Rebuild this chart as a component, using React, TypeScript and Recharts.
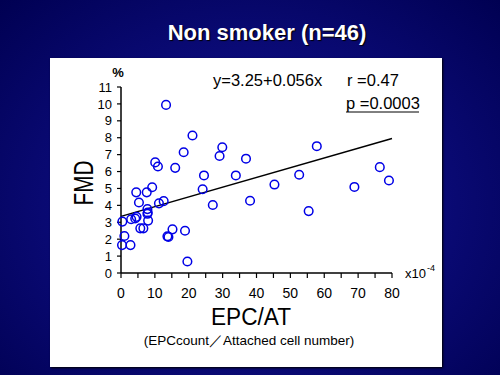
import React from 'react';
import { ScatterChart, Scatter, XAxis, YAxis, ReferenceLine } from 'recharts';

// EPC/AT (x10^-4) vs FMD (%)
const EPC_AT = [0.4, 1.0, 0.3, 2.8, 3.0, 4.6, 4.2, 4.5, 5.3, 5.7, 6.6, 7.6, 7.8, 7.9, 7.8, 8.0, 9.2, 10.1, 10.9, 11.2, 12.6, 13.3, 13.7, 14.0, 15.2, 16.0, 18.5, 18.9, 19.6, 21.1, 24.1, 24.5, 27.1, 29.1, 29.9, 33.9, 36.9, 38.1, 45.3, 52.6, 55.4, 57.8, 68.9, 76.4, 79.1];
const FMD = [3.04, 2.19, 1.65, 1.65, 3.18, 3.32, 3.22, 4.77, 4.17, 2.64, 2.64, 4.77, 3.78, 3.58, 3.5, 3.1, 5.07, 6.54, 6.3, 4.12, 4.25, 9.94, 2.17, 2.13, 2.58, 6.22, 7.14, 2.5, 0.68, 8.13, 4.95, 5.77, 4.02, 6.92, 7.44, 5.77, 6.76, 4.27, 5.23, 5.81, 3.66, 7.5, 5.09, 6.26, 5.47];

// regression line y=3.25+0.056x as drawn
const LINE_X = [0, 80];
const LINE_Y = [3.35, 7.95];

const X_TICKS = [0, 5, 10, 15, 20, 25, 30, 35, 40, 45, 50, 55, 60, 65, 70, 75, 80];
const Y_TICKS = [0, 1, 2, 3, 4, 5, 6, 7, 8, 9, 10, 11];

const points = EPC_AT.map((x, i) => ({ x, y: FMD[i] }));

const font = 'Arial, "Liberation Sans", sans-serif';

const Ring = (props: any) => (
  <circle cx={props.cx} cy={props.cy} r={4.3} fill="none" stroke="#0000e6" strokeWidth={1.5} />
);

export default function App() {
  return (
    <div
      style={{
        position: 'absolute',
        left: 0,
        top: 0,
        width: 500,
        height: 375,
        overflow: 'hidden',
        fontFamily: font,
        background: 'radial-gradient(ellipse at 50% 55%, #1c1c9c 0%, #0c0c7c 45%, #000052 100%)',
      }}
    >
      <div
        style={{
          position: 'absolute',
          left: 0,
          width: 534,
          top: 20,
          textAlign: 'center',
          color: '#fff',
          fontWeight: 'bold',
          fontSize: 22,
          textShadow: '1px 1px 1px #000',
        }}
      >
        Non smoker (n=46)
      </div>
      <div
        style={{
          position: 'absolute',
          left: 50,
          top: 58,
          width: 392,
          height: 309,
          background: '#fff',
          boxShadow: '1px 1px 2px #000',
        }}
      />
      <div style={{ position: 'absolute', left: 0, top: 0 }}>
        <ScatterChart width={500} height={375} margin={{ top: 87, right: 108, bottom: 72, left: 81 }}>
          <XAxis
            type="number"
            dataKey="x"
            domain={[0, 80]}
            ticks={X_TICKS}
            interval={0}
            tickFormatter={(v: number) => (v % 10 === 0 ? String(v) : '')}
            axisLine={{ stroke: '#000', strokeWidth: 1.5 }}
            tickLine={{ stroke: '#000', strokeWidth: 1.2 }}
            tickSize={5}
            tickMargin={10}
            tick={{ fill: '#000', fontSize: 14, fontFamily: font }}
          />
          <YAxis
            type="number"
            dataKey="y"
            domain={[0, 11]}
            ticks={Y_TICKS}
            interval={0}
            width={40}
            axisLine={{ stroke: '#000', strokeWidth: 1.5 }}
            tickLine={{ stroke: '#000', strokeWidth: 1.2 }}
            tickSize={4}
            tickMargin={5}
            tick={{ fill: '#000', fontSize: 13, fontFamily: font }}
          />
          <ReferenceLine
            segment={[{ x: LINE_X[0], y: LINE_Y[0] }, { x: LINE_X[1], y: LINE_Y[1] }]}
            stroke="#000"
            strokeWidth={1.5}
          />
          <Scatter data={points} shape={Ring} isAnimationActive={false} />
        </ScatterChart>
      </div>
      <svg width={500} height={375} style={{ position: 'absolute', left: 0, top: 0, pointerEvents: 'none' }}>
        <g fontFamily={font} fill="#000">
          <text x={118} y={77} fontSize={13} fontWeight="bold" textAnchor="middle">%</text>
          <text x={213} y={86} fontSize={16.5}>y=3.25+0.056x</text>
          <text x={347} y={86} fontSize={16.5}>r =0.47</text>
          <text x={346} y={109} fontSize={16.5}>p =0.0003</text>
          <line x1={346} x2={419} y1={112} y2={112} stroke="#000" strokeWidth={1} />
          <text x={405} y={278} fontSize={13}>x10</text>
          <text x={427} y={271} fontSize={9}>-4</text>
          <text
            x={0}
            y={0}
            fontSize={28}
            textAnchor="middle"
            textLength={45}
            lengthAdjust="spacingAndGlyphs"
            transform="translate(93 183) rotate(-90)"
          >
            FMD
          </text>
          <text x={251} y={325} fontSize={23} textAnchor="middle" textLength={80} lengthAdjust="spacingAndGlyphs">EPC/AT</text>
          <text x={249} y={345} fontSize={13.5} textAnchor="middle">(EPCcount／Attached cell number)</text>
        </g>
      </svg>
    </div>
  );
}
